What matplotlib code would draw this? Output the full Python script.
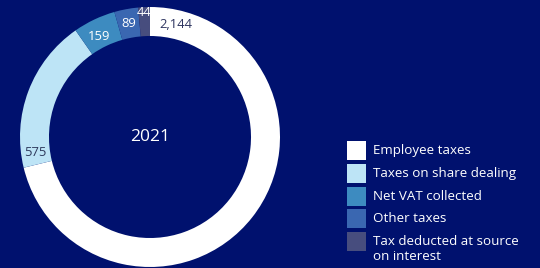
import numpy as np
import matplotlib
matplotlib.use('Agg')
import matplotlib.pyplot as plt
from matplotlib.patches import Rectangle

# Data
categories = ['Employee taxes', 'Taxes on share dealing', 'Net VAT collected',
              'Other taxes', 'Tax deducted at source\non interest']
values = [2144, 575, 159, 89, 44]
value_labels = ['2,144', '575', '159', '89', '44']
year = '2021'

colors = ['#ffffff', '#bde4f6', '#3d8bc0', '#3a67b1', '#474d7e']
label_colors = ['#2e3560', '#2e3a5c', '#ffffff', '#ffffff', '#ffffff']
bg = '#00116e'

plt.rcParams['font.family'] = ['Open Sans', 'DejaVu Sans']

W, H, dpi = 540, 268, 100
fig = plt.figure(figsize=(W / dpi, H / dpi), dpi=dpi, facecolor=bg)

# donut axes: centre (150, 137) px, radius 130 px
cx, cy, R = 150, 137, 130
ax = fig.add_axes([(cx - R) / W, (H - cy - R) / H, 2 * R / W, 2 * R / H])
ax.set_facecolor(bg)
ring = 0.223
wedges, _ = ax.pie(values, colors=colors, startangle=90, counterclock=False,
                   radius=1, wedgeprops=dict(width=ring, linewidth=0))
ax.set_xlim(-1, 1)
ax.set_ylim(-1, 1)
ax.set_aspect('equal')
ax.axis('off')

# value labels inside the ring
total = sum(values)
start = 90.0
for i, (v, lab) in enumerate(zip(values, value_labels)):
    span = 360.0 * v / total
    end = start - span
    r = 1 - ring / 2
    if i == 0:
        ang = start - 13          # near the top of the big slice
    elif i == 1:
        ang = start - 6           # near the boundary with the white slice
    else:
        ang = (start + end) / 2
        if i == 2:
            ang += 1.5
            r -= 0.02
        if i == 4:
            r += 0.07
    x, y = r * np.cos(np.radians(ang)), r * np.sin(np.radians(ang))
    ax.text(x, y, lab, ha='center', va='center', fontsize=9.4,
            color=label_colors[i])
    start = end

ax.text(0, 0, year, ha='center', va='center', fontsize=12.5, color='white')

# legend drawn in pixel coordinates
sq = 19
row_top = 141
step = 22.8
line_gap = 15
for i, (c, name) in enumerate(zip(colors, categories)):
    top = row_top + i * step
    fig.patches.append(Rectangle((347 / W, (H - top - sq) / H), sq / W, sq / H,
                                 transform=fig.transFigure, facecolor=c,
                                 edgecolor='none'))
    for j, line in enumerate(name.split('\n')):
        fig.text(373 / W, (H - top - sq / 2 - j * line_gap) / H, line,
                 ha='left', va='center', fontsize=9.6, color='white')

fig.savefig('out.png', dpi=dpi, facecolor=bg)
